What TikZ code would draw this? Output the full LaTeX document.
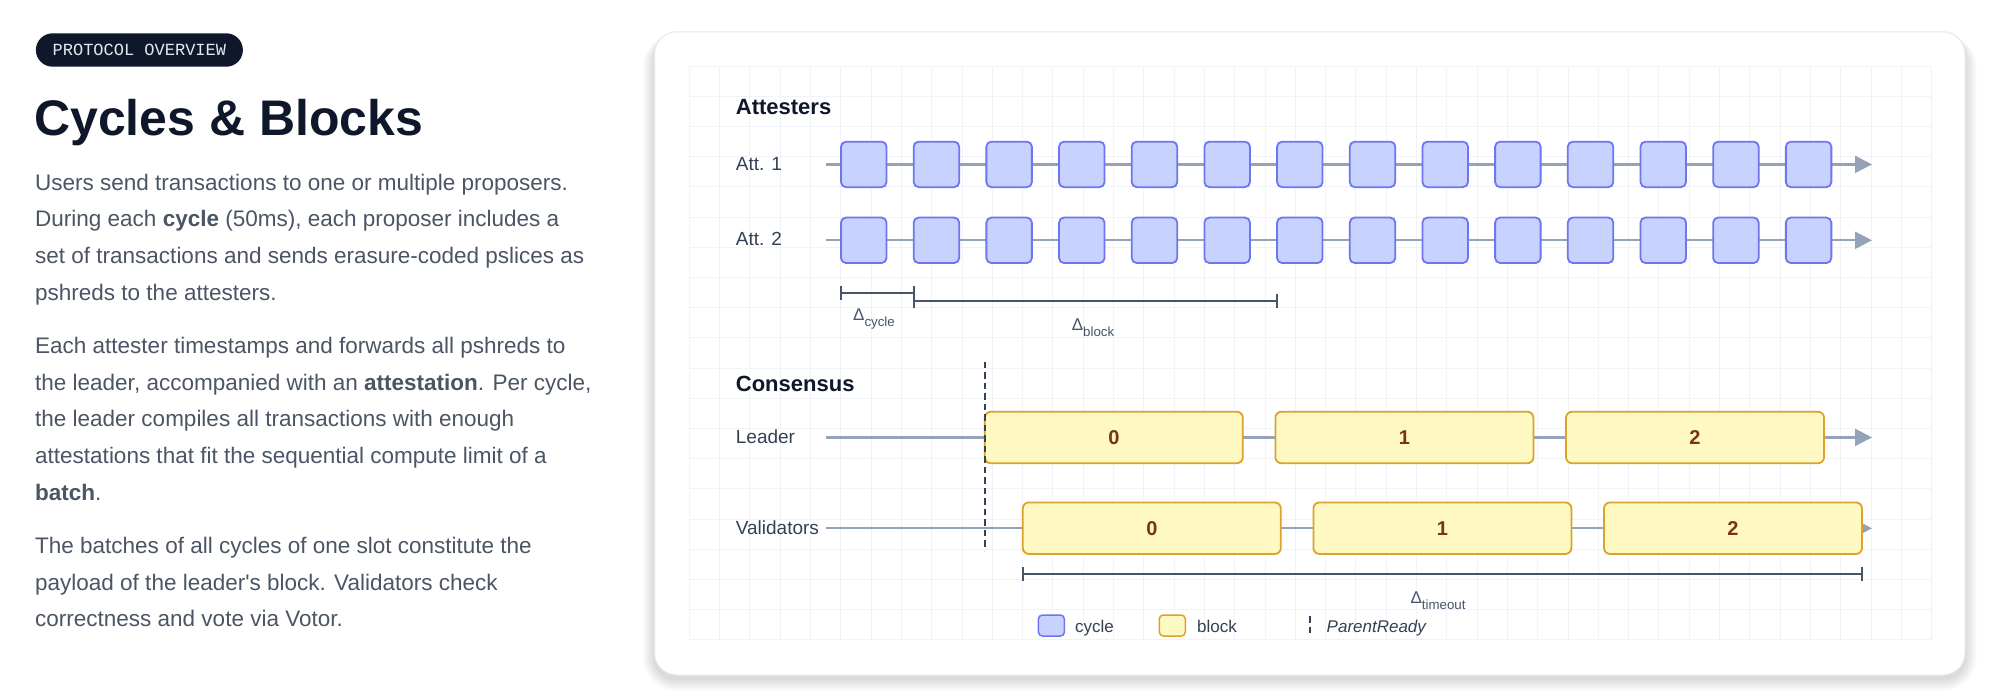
\documentclass[tikz,border=0pt]{standalone}
\usepackage{fontspec}
\setmainfont{Liberation Sans}
\newfontfamily\pillfont{Liberation Mono}
\usetikzlibrary{arrows.meta}
\definecolor{inkdark}{HTML}{0F172A}
\definecolor{inkbody}{HTML}{4B5565}
\definecolor{inklabel}{HTML}{334155}
\definecolor{pilltext}{HTML}{E2E8F0}
\definecolor{cardedge}{HTML}{E5E7EB}
\definecolor{gridcol}{HTML}{F0F3F7}
\definecolor{linecol}{HTML}{94A3B8}
\definecolor{rulecol}{HTML}{475569}
\definecolor{cyclefill}{HTML}{C7D2FE}
\definecolor{cycledraw}{HTML}{6D75F0}
\definecolor{blockfill}{HTML}{FEF9C3}
\definecolor{blockdraw}{HTML}{DCA22C}
\definecolor{blocktext}{HTML}{78350F}
\tikzset{
  pill/.style={fill=inkdark, rounded corners=16.7pt, minimum width=207pt, minimum height=33.4pt, inner sep=0pt, text=pilltext, font=\pillfont\fontsize{17}{17}\selectfont},
  bodytext/.style={anchor=base west, inner sep=0pt, align=left, text=inkbody, font=\fontsize{22.5}{36.7}\selectfont},
  gridline/.style={draw=gridcol, line width=0.9pt},
  cyclebox/.style={draw=cycledraw, fill=cyclefill, line width=1.8pt, rounded corners=5pt, minimum width=45.5pt, minimum height=45.5pt, inner sep=0pt},
  blockbox/.style={draw=blockdraw, fill=blockfill, line width=1.8pt, rounded corners=6pt, minimum width=258pt, minimum height=51.5pt, inner sep=0pt, text=blocktext, font=\fontsize{20}{20}\selectfont\bfseries},
  header/.style={anchor=west, inner sep=0pt, text=inkdark, font=\fontsize{22}{22}\selectfont\bfseries},
  rowlabel/.style={anchor=west, inner sep=0pt, text=inklabel, font=\fontsize{19}{19}\selectfont},
  timeline/.style={draw=linecol, line width=2.2pt, -{Triangle[length=17pt,width=17pt]}},
  spanline/.style={draw=rulecol, line width=2pt},
  deltalabel/.style={anchor=base, inner sep=0pt, text=rulecol, font=\fontsize{17}{17}\selectfont},
  legendtext/.style={anchor=base west, inner sep=0pt, text=inklabel, font=\fontsize{17}{17}\selectfont},
  readyline/.style={draw=inklabel, line width=2pt, dash pattern=on 6.5pt off 4pt}
}
\newcommand{\dsub}[1]{\raisebox{-6.5pt}{\fontsize{13.3}{13.3}\selectfont #1}}
\begin{document}
\begin{tikzpicture}[x=1pt, y=-1pt]
  \fill[white] (0,0) rectangle (1999,699);
  \useasboundingbox (0,0) rectangle (1999,699);

  % left column (base anchor sits on the last line)
  \node[pill] (tag) at (139.4,50) {PROTOCOL OVERVIEW};
  \node[anchor=base west, inner sep=0pt, text=inkdark, font=\fontsize{50}{50}\selectfont\bfseries] (title) at (34,135) {Cycles \& Blocks};
  \node[bodytext] (para1) at (35,300.1) {Users send transactions to one or multiple proposers.\\
    During each \textbf{cycle} (50ms), each proposer includes a\\
    set of transactions and sends erasure-coded pslices as\\
    pshreds to the attesters.};
  \node[bodytext] (para2) at (35,500.1) {Each attester timestamps and forwards all pshreds to\\
    the leader, accompanied with an \textbf{attestation}. Per cycle,\\
    the leader compiles all transactions with enough\\
    attestations that fit the sequential compute limit of a\\
    \textbf{batch}.};
  \node[bodytext] (para3) at (35,626.7) {The batches of all cycles of one slot constitute the\\
    payload of the leader\textquotesingle s block. Validators check\\
    correctness and vote via Votor.};

  % card, soft shadow and grid
  \foreach \s in {1,...,12}
    \fill[black, opacity=0.012, rounded corners={22+\s}] ({654.5-\s},{31.8+6-\s*0.3}) rectangle ({1965+\s},{675+4+\s});
  \draw[draw=cardedge, fill=white, line width=1pt, rounded corners=22pt] (654.5,31.8) rectangle (1965,675);
  \foreach \k in {0,...,41}
    \draw[gridline] ({689.3+\k*30.3},66) -- ({689.3+\k*30.3},640);
  \foreach \k in {0,...,19}
    \draw[gridline] (689.3,{66+\k*30.2}) -- (1931.6,{66+\k*30.2});

  % attesters
  \node[header] (atthead) at (735.7,107) {Attesters};
  \node[rowlabel] (att1) at (735.7,163.8) {Att. 1};
  \node[rowlabel] (att2) at (735.7,239.3) {Att. 2};
  \coordinate (a1start) at (826.3,164.4);
  \coordinate (a1end) at (1872,164.4);
  \coordinate (a2start) at (826.3,240.3);
  \coordinate (a2end) at (1872,240.3);
  \draw[timeline] (a1start) -- (a1end);
  \draw[timeline] (a2start) -- (a2end);
  \foreach \i in {1,...,14} {
    \node[cyclebox] (ca\i) at ({863.75+(\i-1)*72.68},164.4) {};
    \node[cyclebox] (cb\i) at ({863.75+(\i-1)*72.68},240.3) {};
  }

  % cycle and block spans
  \coordinate (dc0) at (841,293.3);
  \coordinate (dc1) at (913.7,293.3);
  \coordinate (db0) at (913.7,301);
  \coordinate (db1) at (1277.1,301);
  \draw[spanline] (dc0) -- (dc1);
  \draw[spanline] (db0) -- (db1);
  \draw[spanline] (841,286.3) -- (841,300.3);
  \draw[spanline] (913.7,286.3) -- (913.7,308);
  \draw[spanline] (1277.1,294) -- (1277.1,308);
  \node[deltalabel] (dcycle) at (874,320) {Δ\dsub{cycle}};
  \node[deltalabel] (dblock) at (1093,330) {Δ\dsub{block}};

  % consensus
  \node[header] (conshead) at (735.7,384) {Consensus};
  \node[rowlabel] (leader) at (735.7,436.5) {Leader};
  \node[rowlabel] (valid) at (735.7,527.3) {Validators};
  \coordinate (lstart) at (826.3,437.4);
  \coordinate (lend) at (1872,437.4);
  \coordinate (vstart) at (826.3,528.3);
  \coordinate (vend) at (1872,528.3);
  \draw[timeline] (lstart) -- (lend);
  \draw[timeline] (vstart) -- (vend);
  \foreach \k/\x in {0/1113.8,1/1404.4,2/1695} {
    \node[blockbox] (lb\k) at (\x,437.5) {\k};
    \node[blockbox] (vb\k) at ({\x+38},528.2) {\k};
  }
  \coordinate (ready0) at (984.8,361.7);
  \coordinate (ready1) at (984.8,550.7);
  \draw[readyline] (ready0) -- (ready1);

  % timeout span
  \coordinate (dt0) at (1022.8,574);
  \coordinate (dt1) at (1861.5,574);
  \draw[spanline] (dt0) -- (dt1);
  \draw[spanline] (1022.8,567) -- (1022.8,581);
  \draw[spanline] (1861.5,567) -- (1861.5,581);
  \node[deltalabel] (dtimeout) at (1438,603.3) {Δ\dsub{timeout}};

  % legend
  \node[cyclebox, minimum width=26pt, minimum height=21pt, rounded corners=4pt, line width=1.5pt] (legcycle) at (1051.4,625.5) {};
  \node[legendtext] (legcyclet) at (1075,632) {cycle};
  \node[blockbox, minimum width=26pt, minimum height=21pt, rounded corners=4pt, line width=1.5pt] (legblock) at (1172.3,625.5) {};
  \node[legendtext] (legblockt) at (1197,632) {block};
  \coordinate (legr0) at (1309.8,616);
  \coordinate (legr1) at (1309.8,633);
  \draw[readyline] (legr0) -- (legr1);
  \node[legendtext] (legreadyt) at (1326.5,632) {\itshape ParentReady};
\end{tikzpicture}
\end{document}
